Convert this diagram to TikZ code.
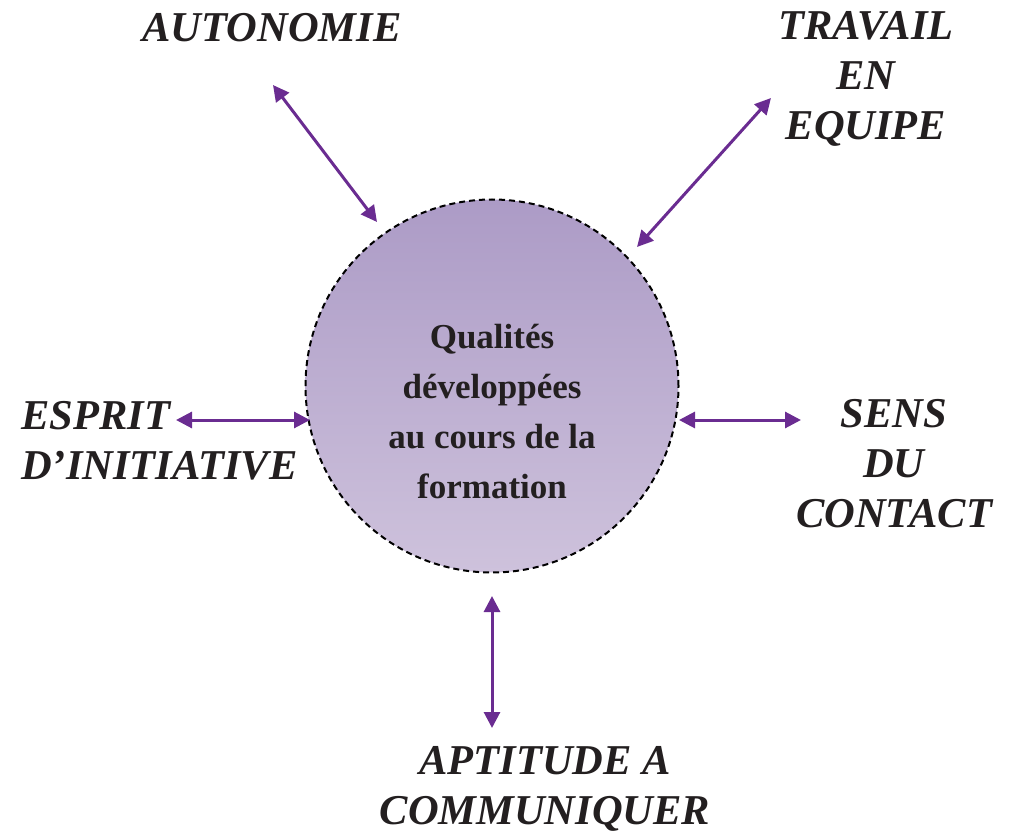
\documentclass[tikz,border=0pt]{standalone}
\usepackage{fontspec}
\setmainfont{Liberation Serif}
\usetikzlibrary{arrows.meta}
\definecolor{arrpurple}{HTML}{6A2C91}
\definecolor{txt}{HTML}{231F20}
\definecolor{ctop}{HTML}{AC9BC6}
\definecolor{cbot}{HTML}{CEC2DC}
\tikzset{
  lbl/.style={font=\fontsize{42.5}{50}\selectfont\bfseries\itshape, text=txt, align=center, inner sep=0pt},
  arr/.style={draw=arrpurple, line width=3pt, {Triangle[length=16pt,width=16pt]}-{Triangle[length=16pt,width=16pt]}},
  hub/.style={circle, minimum size=373pt, inner sep=0pt, top color=ctop, bottom color=cbot, draw=black, line width=2pt, dash pattern=on 6pt off 4pt, align=center}
}
\begin{document}
\begin{tikzpicture}[x=1pt,y=-1pt]
\useasboundingbox (0,0) rectangle (1018,834);
\node[hub] (c) at (492,386) {};
\node[font=\fontsize{35}{50}\selectfont\bfseries, text=txt, align=center, inner sep=0pt] (ctext) at (492,412) {Qualités\\développées\\au cours de la\\formation};
\node[lbl] (auto) at (272,28) {AUTONOMIE};
\node[lbl] (trav) at (866,79) {TRAVAIL\\EN\\EQUIPE};
\node[lbl, align=left, anchor=west] (esp) at (21,441) {ESPRIT\\D’INITIATIVE};
\node[lbl] (sens) at (894,464) {SENS\\DU\\CONTACT};
\node[lbl] (apt) at (545,789) {APTITUDE A\\COMMUNIQUER};
\coordinate (a1) at (273,85);
\coordinate (a2) at (377,222);
\coordinate (b1) at (771,98);
\coordinate (b2) at (637,247);
\coordinate (e1) at (176,420);
\coordinate (e2) at (310,420);
\coordinate (s1) at (679,420);
\coordinate (s2) at (801,420);
\coordinate (p1) at (492,596);
\coordinate (p2) at (492,728);
\draw[arr] (a1) -- (a2);
\draw[arr] (b1) -- (b2);
\draw[arr] (e1) -- (e2);
\draw[arr] (s1) -- (s2);
\draw[arr] (p1) -- (p2);
\end{tikzpicture}
\end{document}
